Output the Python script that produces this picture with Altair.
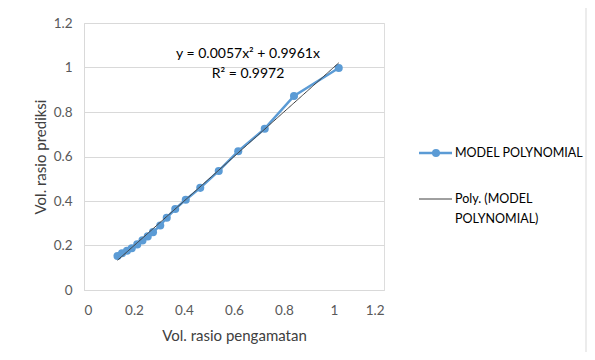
import altair as alt
import pandas as pd

# observed vs predicted volume ratio
obs = [0.134, 0.152, 0.172, 0.191, 0.213, 0.234, 0.255, 0.276, 0.305, 0.331,
       0.365, 0.407, 0.465, 0.539, 0.617, 0.723, 0.840, 1.019]
pred = [0.153, 0.165, 0.176, 0.188, 0.205, 0.223, 0.241, 0.260, 0.290, 0.325,
        0.364, 0.406, 0.459, 0.535, 0.624, 0.725, 0.872, 0.998]

# trendline coefficients shown on chart
a2 = 0.0057
a1 = 0.9961
eq_line1 = "y = 0.0057x² + 0.9961x"
eq_line2 = "R² = 0.9972"
series_name = "MODEL POLYNOMIAL"
trend_name = ["Poly. (MODEL", "POLYNOMIAL)"]
x_ticks = [0, 0.2, 0.4, 0.6, 0.8, 1, 1.2]
y_ticks = [0, 0.2, 0.4, 0.6, 0.8, 1, 1.2]

df = pd.DataFrame({"x": obs, "y": pred})

FONT = "Lato"
BLUE = "#5B9BD5"
DARK = "#404040"

xscale = alt.Scale(domain=[0, 1.2], nice=False)
yscale = alt.Scale(domain=[0, 1.2], nice=False)

xaxis = alt.Axis(values=x_ticks, format="~g", title="Vol. rasio pengamatan", grid=False, ticks=False,
                 domainColor="#D9D9D9", labelColor="#595959", labelFontSize=13.5,
                 labelPadding=13, titleFontSize=15, titleColor=DARK, titleFontWeight="normal",
                 titlePadding=12, labelFont=FONT, titleFont=FONT)
yaxis = alt.Axis(values=y_ticks, format="~g", title="Vol. rasio prediksi", grid=True, gridColor="#D9D9D9",
                 ticks=False, domainColor="#D9D9D9", labelColor="#595959", labelFontSize=13.5,
                 labelPadding=12, titleFontSize=15, titleColor=DARK, titleFontWeight="normal",
                 titlePadding=5, labelFont=FONT, titleFont=FONT)

base = alt.Chart(df)
line = base.mark_line(color=BLUE, strokeWidth=2.5).encode(
    x=alt.X("x:Q", scale=xscale, axis=xaxis),
    y=alt.Y("y:Q", scale=yscale, axis=yaxis),
)
pts = base.mark_circle(color=BLUE, size=65, opacity=1).encode(
    x=alt.X("x:Q", scale=xscale),
    y=alt.Y("y:Q", scale=yscale),
)

trend = alt.Chart(alt.sequence(min(obs), max(obs) + 0.0005, 0.005, as_="x")).transform_calculate(
    y=f"{a2}*datum.x*datum.x + {a1}*datum.x"
).mark_line(color=DARK, strokeWidth=1).encode(
    x=alt.X("x:Q", scale=xscale),
    y=alt.Y("y:Q", scale=yscale),
)

eq1 = alt.Chart().mark_text(font=FONT, fontSize=14, color="#000000", align="center",
                            baseline="middle").encode(
    x=alt.value(164), y=alt.value(31), text=alt.value(eq_line1))
eq2 = alt.Chart().mark_text(font=FONT, fontSize=14, color="#000000", align="center",
                            baseline="middle").encode(
    x=alt.value(164), y=alt.value(51), text=alt.value(eq_line2))

# legend
leg_line1 = alt.Chart().mark_rule(color=BLUE, strokeWidth=2.5).encode(
    x=alt.value(335), x2=alt.value(368), y=alt.value(130))
leg_dot = alt.Chart().mark_circle(color=BLUE, size=65, opacity=1).encode(
    x=alt.value(352), y=alt.value(130))
leg_txt1 = alt.Chart().mark_text(font=FONT, fontSize=12.5, color="#000000", align="left",
                                 baseline="middle").encode(
    x=alt.value(371), y=alt.value(130), text=alt.value(series_name))
leg_line2 = alt.Chart().mark_rule(color=DARK, strokeWidth=1).encode(
    x=alt.value(335), x2=alt.value(368), y=alt.value(176))
leg_txt2 = alt.Chart().mark_text(font=FONT, fontSize=12.5, color="#000000", align="left",
                                 baseline="middle").encode(
    x=alt.value(371), y=alt.value(176), text=alt.value(trend_name[0]))
leg_txt3 = alt.Chart().mark_text(font=FONT, fontSize=12.5, color="#000000", align="left",
                                 baseline="middle").encode(
    x=alt.value(371), y=alt.value(196), text=alt.value(trend_name[1]))

border = alt.Chart().mark_rect(filled=False, stroke="#D9D9D9", strokeWidth=1).encode(
    x=alt.value(-78.5), x2=alt.value(502), y=alt.value(-17.5), y2=alt.value(332))

chart = alt.layer(
    border, line, pts, trend, eq1, eq2,
    leg_line1, leg_dot, leg_txt1, leg_line2, leg_txt2, leg_txt3,
).properties(
    width=300, height=267,
    autosize=alt.AutoSizeParams(type="none"),
    padding={"left": 76, "top": 15, "right": 203, "bottom": 62},
).configure_view(stroke=None).configure(background="white")

chart.save("out.html", embed_options={"renderer": "svg", "actions": False})
